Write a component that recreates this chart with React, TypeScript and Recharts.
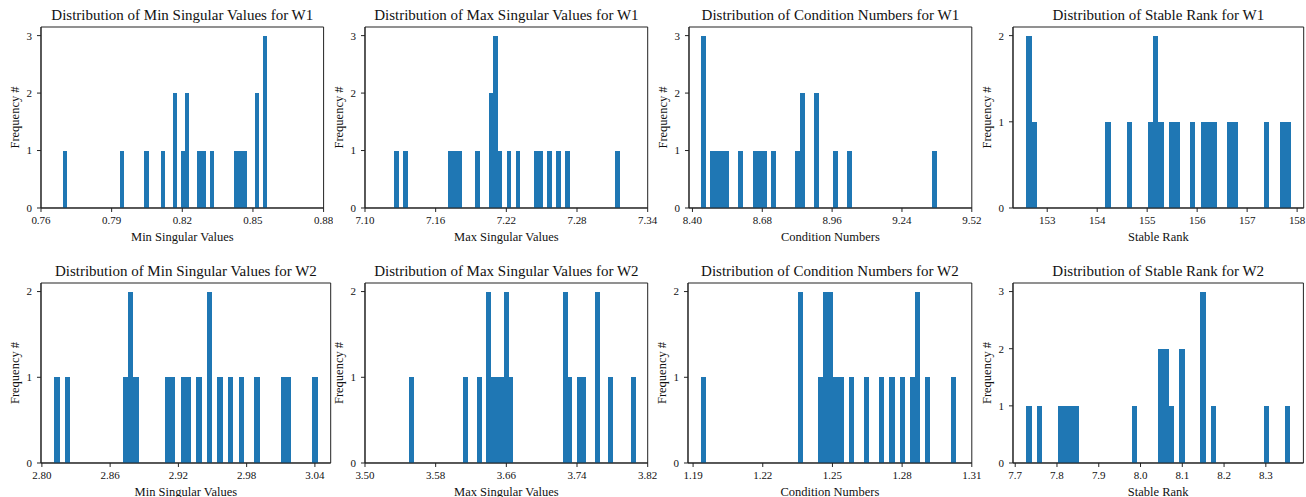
import { BarChart, Bar, XAxis, YAxis, ReferenceArea } from "recharts";

const BLUE = "#1f77b4";
const INK = "#222";
const FONT = "'Liberation Serif', 'DejaVu Serif', serif";
const BINS = 50;

// histogram counts, 50 bins each between the sample min and max
const minSvW1 = [
  1, 0, 0, 0, 0, 0, 0, 0, 0, 0,
  0, 0, 0, 0, 1, 0, 0, 0, 0, 0,
  1, 0, 0, 0, 1, 0, 0, 2, 0, 1,
  2, 0, 0, 1, 1, 0, 1, 0, 0, 0,
  0, 0, 1, 1, 1, 0, 0, 2, 0, 3,
];
const maxSvW1 = [
  1, 0, 1, 0, 0, 0, 0, 0, 0, 0,
  0, 0, 1, 1, 1, 0, 0, 0, 1, 0,
  0, 2, 3, 1, 0, 1, 0, 1, 0, 0,
  0, 1, 1, 0, 1, 0, 1, 0, 1, 0,
  0, 0, 0, 0, 0, 0, 0, 0, 0, 1,
];
const condW1 = [
  3, 0, 1, 1, 1, 1, 0, 0, 1, 0,
  0, 1, 1, 1, 0, 1, 0, 0, 0, 0,
  1, 2, 0, 0, 2, 0, 0, 0, 1, 0,
  0, 1, 0, 0, 0, 0, 0, 0, 0, 0,
  0, 0, 0, 0, 0, 0, 0, 0, 0, 1,
];
const rankW1 = [
  2, 1, 0, 0, 0, 0, 0, 0, 0, 0,
  0, 0, 0, 0, 0, 1, 0, 0, 0, 1,
  0, 0, 0, 1, 2, 1, 0, 1, 1, 0,
  0, 1, 0, 1, 1, 1, 0, 0, 1, 1,
  0, 0, 0, 0, 0, 1, 0, 0, 1, 1,
];
const minSvW2 = [
  1, 0, 1, 0, 0, 0, 0, 0, 0, 0,
  0, 0, 0, 1, 2, 1, 0, 0, 0, 0,
  0, 1, 1, 0, 1, 1, 0, 1, 0, 2,
  0, 1, 0, 1, 0, 1, 0, 0, 1, 0,
  0, 0, 0, 1, 1, 0, 0, 0, 0, 1,
];
const maxSvW2 = [
  1, 0, 0, 0, 0, 0, 0, 0, 0, 0,
  0, 0, 1, 0, 0, 1, 0, 2, 1, 1,
  1, 2, 1, 0, 0, 0, 0, 0, 0, 0,
  0, 0, 0, 0, 2, 1, 0, 1, 1, 0,
  0, 2, 0, 0, 1, 0, 0, 0, 0, 1,
];
const condW2 = [
  1, 0, 0, 0, 0, 0, 0, 0, 0, 0,
  0, 0, 0, 0, 0, 0, 0, 0, 0, 2,
  0, 0, 0, 1, 2, 2, 1, 1, 0, 1,
  0, 0, 1, 0, 0, 1, 0, 1, 0, 1,
  0, 1, 2, 0, 1, 0, 0, 0, 0, 1,
];
const rankW2 = [
  1, 0, 1, 0, 0, 0, 1, 1, 1, 1,
  0, 0, 0, 0, 0, 0, 0, 0, 0, 0,
  1, 0, 0, 0, 0, 2, 2, 1, 0, 2,
  0, 0, 0, 3, 0, 1, 0, 0, 0, 0,
  0, 0, 0, 0, 0, 1, 0, 0, 0, 1,
];

// sample ranges [min, max]
const ranges: [number, number][] = [
  [0.7692, 0.8559],
  [7.1246, 7.3162],
  [8.4334, 9.3783],
  [152.58, 157.867],
  [2.8108, 3.0423],
  [3.5498, 3.8064],
  [1.1933, 1.3031],
  [7.7263, 8.3583],
];

const xTicks = [
  [0.76, 0.79, 0.82, 0.85, 0.88],
  [7.1, 7.16, 7.22, 7.28, 7.34],
  [8.4, 8.68, 8.96, 9.24, 9.52],
  [153, 154, 155, 156, 157, 158],
  [2.8, 2.86, 2.92, 2.98, 3.04],
  [3.5, 3.58, 3.66, 3.74, 3.82],
  [1.19, 1.22, 1.25, 1.28, 1.31],
  [7.7, 7.8, 7.9, 8.0, 8.1, 8.2, 8.3],
];
const tickDigits = [2, 2, 2, 0, 2, 2, 2, 1];

const titles = [
  "Distribution of Min Singular Values for W1",
  "Distribution of Max Singular Values for W1",
  "Distribution of Condition Numbers for W1",
  "Distribution of Stable Rank for W1",
  "Distribution of Min Singular Values for W2",
  "Distribution of Max Singular Values for W2",
  "Distribution of Condition Numbers for W2",
  "Distribution of Stable Rank for W2",
];
const xLabels = [
  "Min Singular Values",
  "Max Singular Values",
  "Condition Numbers",
  "Stable Rank",
];
const allCounts = [minSvW1, maxSvW1, condW1, rankW1, minSvW2, maxSvW2, condW2, rankW2];

// page layout of each axes box: [left, right], rows: [top, bottom]
const boxes: [number, number][] = [
  [40.7, 323.3],
  [365, 647.7],
  [689.2, 972],
  [1012.5, 1303.2],
  [40.8, 330.5],
  [365, 647.7],
  [688.2, 972],
  [1012.8, 1303.2],
];
const rows: [number, number][] = [
  [26.7, 207.7],
  [283, 463],
];

const ML = 50, MR = 10, MT = 30, MB = 45;

function Panel({ idx }: { idx: number }) {
  const [l, r] = boxes[idx];
  const [t, b] = rows[idx < 4 ? 0 : 1];
  const counts = allCounts[idx];
  const [lo, hi] = ranges[idx];
  const ticks = xTicks[idx];
  const pw = r - l;
  const ph = b - t;
  const w = pw + ML + MR;
  const h = ph + MT + MB;

  const step = (hi - lo) / BINS;
  const data = counts.map((n, i) => ({ x: lo + (i + 0.5) * step, n }));
  const span = hi - lo;
  // matplotlib: 5% margins, widened to the explicit ticks
  const x0 = Math.min(lo - 0.05 * span, ticks[0]);
  const x1 = Math.max(hi + 0.05 * span, ticks[ticks.length - 1]);
  const binPx = (pw * step) / (x1 - x0);
  const top = Math.max(...counts);
  const ymax = top * 1.05;
  const yTicks = Array.from({ length: top + 1 }, (_, i) => i);

  const tickStyle = { fill: "#111", fontSize: 11, fontFamily: FONT };
  const cx = ML + pw / 2;

  // recharts truncates bar widths to whole pixels; keep x/y/height from it, use the full bin width
  const binShape = (p: any) =>
    p.height > 0 ? (
      <rect
        x={p.x}
        y={p.y}
        width={binPx + 0.1}
        height={p.height}
        fill={BLUE}
        shapeRendering="crispEdges"
      />
    ) : (
      <g />
    );

  return (
    <div style={{ position: "absolute", left: l - ML, top: t - MT, width: w, height: h }}>
      <BarChart
        width={w}
        height={h}
        data={data}
        margin={{ top: MT, right: MR, bottom: 5, left: 20 }}
        barCategoryGap={0}
        barGap={0}
      >
        <XAxis
          dataKey="x"
          type="number"
          domain={[x0, x1]}
          allowDataOverflow
          ticks={ticks}
          interval={0}
          tickFormatter={(v: number) => v.toFixed(tickDigits[idx])}
          height={40}
          tickSize={4}
          tickMargin={4}
          stroke={INK}
          tick={tickStyle}
        />
        <YAxis
          type="number"
          domain={[0, ymax]}
          allowDataOverflow
          ticks={yTicks}
          interval={0}
          width={30}
          tickSize={4}
          tickMargin={5}
          stroke={INK}
          tick={tickStyle}
        />
        <Bar dataKey="n" fill={BLUE} barSize={binPx * 0.998} shape={binShape} isAnimationActive={false} />
        <ReferenceArea x1={x0} x2={x1} y1={0} y2={ymax} fill="none" stroke={INK} strokeWidth={1} fillOpacity={0} />
      </BarChart>
      <svg
        width={w}
        height={h}
        style={{ position: "absolute", left: 0, top: 0, overflow: "visible", pointerEvents: "none" }}
      >
        <text x={cx} y={MT - 7.3} textAnchor="middle" fontSize={15} fontFamily={FONT} fill="#111">
          {titles[idx]}
        </text>
        <text x={cx} y={MT + ph + 32.5} textAnchor="middle" fontSize={12.5} fontFamily={FONT} fill="#111">
          {xLabels[idx % 4]}
        </text>
        <text
          x={ML - 22}
          y={MT + ph / 2}
          textAnchor="middle"
          fontSize={12.5}
          fontFamily={FONT}
          fill="#111"
          transform={`rotate(-90 ${ML - 22} ${MT + ph / 2})`}
        >
          Frequency #
        </text>
      </svg>
    </div>
  );
}

export default function App() {
  return (
    <div style={{ position: "absolute", left: 0, top: 0, width: 1306, height: 497, background: "#fff" }}>
      {allCounts.map((_, i) => (
        <Panel key={i} idx={i} />
      ))}
    </div>
  );
}
